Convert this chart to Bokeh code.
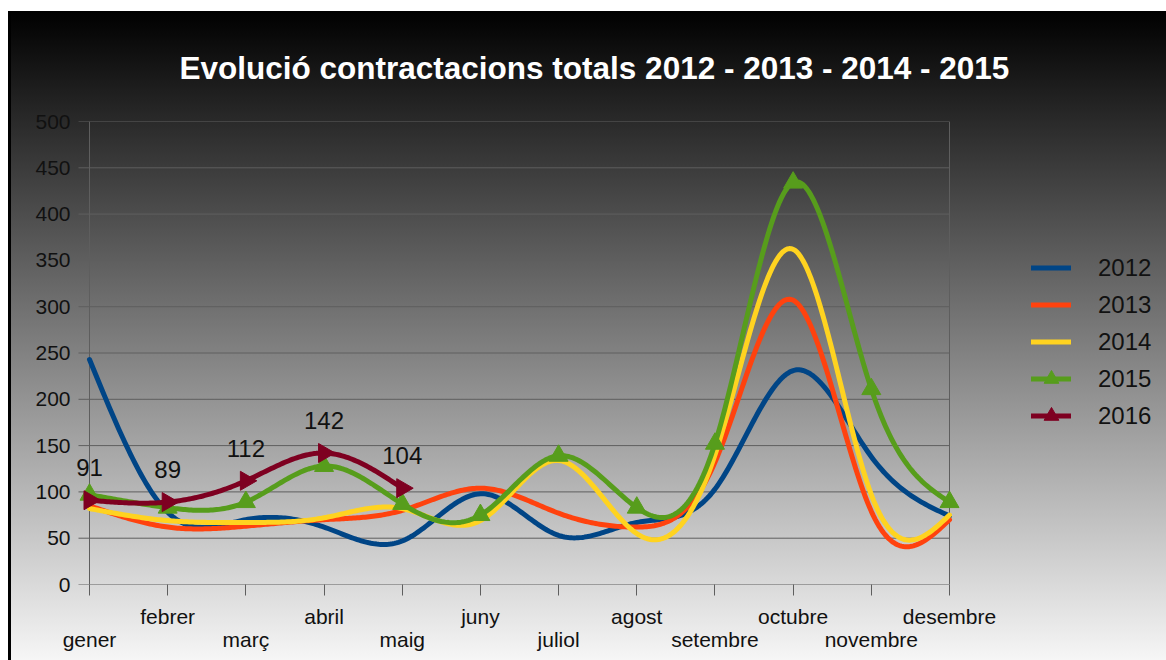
import numpy as np
from bokeh.plotting import figure
from bokeh.models import (Range1d, FixedTicker, LinearAxis, Legend, LegendItem,
                          ColumnDataSource, LabelSet, Title)
from bokeh.core.properties import value
from bokeh.embed import file_html
from bokeh.resources import INLINE

months = ["gener", "febrer", "març", "abril", "maig", "juny", "juliol",
          "agost", "setembre", "octubre", "novembre", "desembre"]
y2012 = [243, 78, 70, 62, 47, 98, 53, 67, 103, 231, 138, 74]
y2013 = [85, 62, 63, 70, 80, 104, 77, 62, 132, 307, 79, 70]
y2014 = [82, 69, 67, 72, 82, 69, 134, 55, 140, 362, 97, 75]
y2015 = [97, 83, 89, 128, 87, 75, 139, 83, 152, 434, 211, 89]
y2016 = [91, 89, 112, 142, 104]
years = ["2012", "2013", "2014", "2015", "2016"]
colors = ["#004586", "#ff420e", "#ffd320", "#579d1c", "#7e0021"]
y_ticks = list(range(0, 501, 50))

FONT = "Liberation Sans"
AXIS_GRAY = "#5e5e5e"
PX_PER_UNIT = 860 / 11.0          # one month step in pixels
X_START = -27 / PX_PER_UNIT       # frame reaches 27px left of "gener"
X_END = 11 + 217 / PX_PER_UNIT    # frame reaches the right edge (room for legend)
GRID_START = -11 / PX_PER_UNIT    # grid lines stick out 11px left of the axis


def natural_spline(yv, n=40):
    y = np.asarray(yv, dtype=float)
    k = len(y)
    x = np.arange(k, dtype=float)
    if k < 3:
        return x, y
    A = np.zeros((k, k))
    b = np.zeros(k)
    A[0, 0] = 1.0
    A[-1, -1] = 1.0
    for i in range(1, k - 1):
        A[i, i - 1] = 1.0
        A[i, i] = 4.0
        A[i, i + 1] = 1.0
        b[i] = 6.0 * (y[i + 1] - 2 * y[i] + y[i - 1])
    M = np.linalg.solve(A, b)
    xs, ys = [], []
    for i in range(k - 1):
        t = np.linspace(0, 1, n, endpoint=(i == k - 2))
        s = (M[i] * (1 - t) ** 3 / 6 + M[i + 1] * t ** 3 / 6
             + (y[i] - M[i] / 6) * (1 - t) + (y[i + 1] - M[i + 1] / 6) * t)
        xs.append(x[i] + t)
        ys.append(s)
    return np.concatenate(xs), np.concatenate(ys)


p = figure(width=1166, height=660, output_backend="svg", toolbar_location=None,
           x_range=Range1d(X_START, X_END), y_range=Range1d(0, 500),
           min_border_left=62, min_border_right=0, min_border_top=121,
           min_border_bottom=76, x_axis_location=None)

p.background_fill_alpha = 0
p.border_fill_alpha = 0
p.outline_line_color = None
p.styles = {
    "background-image": (
        "linear-gradient(to bottom, #ffffff 0px, #ffffff 11px, rgba(255,255,255,0) 11px), "
        "linear-gradient(to right, #ffffff 0px, #ffffff 8px, #000000 8px, #000000 11px, rgba(0,0,0,0) 11px), "
        "linear-gradient(to bottom, #000000 0px, #000000 11px, #f6f6f6 100%)")
}

# title
p.title = Title(text="Evolució contractacions totals 2012 - 2013 - 2014 - 2015",
                text_color="#ffffff", text_font=FONT, text_font_style="bold",
                text_font_size="31.5px", align="left", offset=117, standoff=72)

# y axis (labels only; lines drawn as grid segments)
yax = p.yaxis[0]
yax.ticker = FixedTicker(ticks=y_ticks)
yax.major_tick_out = 0
yax.major_tick_in = 0
yax.minor_tick_out = 0
yax.minor_tick_in = 0
yax.axis_line_color = None
yax.major_label_text_font = FONT
yax.major_label_text_font_size = "21px"
yax.major_label_text_color = "#111111"
yax.major_label_standoff = -8

p.ygrid.visible = False
p.xgrid.visible = False

# horizontal grid lines (extend 11px left of the vertical axis, like ticks)
p.segment(x0=[GRID_START] * len(y_ticks), y0=y_ticks, x1=[11] * len(y_ticks), y1=y_ticks,
          line_color=AXIS_GRAY, line_width=1)
# vertical axis line and right border of the plot area
p.segment(x0=[0, 11], y0=[0, 0], x1=[0, 11], y1=[500, 500], line_color=AXIS_GRAY, line_width=1)

# x axes: two rows of labels
x1 = LinearAxis(ticker=FixedTicker(ticks=list(range(12))),
                major_label_overrides={i: (months[i] if i % 2 == 1 else "") for i in range(12)})
x1.major_tick_out = 11
x1.major_tick_in = 0
x1.minor_tick_out = 0
x1.minor_tick_in = 0
x1.axis_line_color = None
x1.major_tick_line_color = AXIS_GRAY
x1.major_label_text_font = FONT
x1.major_label_text_font_size = "21px"
x1.major_label_text_color = "#111111"
x1.major_label_text_line_height = 1.0
x1.major_label_standoff = 9
p.add_layout(x1, "below")

x2 = LinearAxis(ticker=FixedTicker(ticks=list(range(0, 12, 2))),
                major_label_overrides={i: months[i] for i in range(0, 12, 2)})
x2.major_tick_out = 0
x2.major_tick_in = 0
x2.minor_tick_out = 0
x2.minor_tick_in = 0
x2.axis_line_color = None
x2.major_label_text_font = FONT
x2.major_label_text_font_size = "21px"
x2.major_label_text_color = "#111111"
x2.major_label_text_line_height = 1.0
x2.major_label_standoff = -3
p.add_layout(x2, "below")

items = []
series = [y2012, y2013, y2014, y2015, y2016]
for yr, data, col in zip(years, series, colors):
    sx, sy = natural_spline(data)
    r_line = p.line(sx, sy, line_color=col, line_width=5, line_join="round", line_cap="round")
    rs = [r_line]
    if yr == "2015":
        r_m = p.scatter(list(range(len(data))), data, marker="triangle", size=19,
                        fill_color=col, line_color=col)
        rs.append(r_m)
    if yr == "2016":
        r_m = p.scatter(list(range(len(data))), data, marker="triangle", size=19,
                        angle=-np.pi / 2, fill_color=col, line_color=col)
        rs.append(r_m)
    items.append(LegendItem(label=yr, renderers=rs))

# data labels for 2016
src16 = ColumnDataSource(dict(x=list(range(len(y2016))), y=y2016,
                              t=[str(v) for v in y2016]))
labels = LabelSet(x="x", y="y", text="t", source=src16, text_align="center",
                  text_baseline="alphabetic", y_offset=24, text_font=value(FONT),
                  text_font_size="24px", text_color="#111111")
p.add_layout(labels)

legend = Legend(items=items, location=(969, 150), orientation="vertical",
                glyph_width=40, glyph_height=37, label_height=24, spacing=0,
                label_standoff=27, padding=0, margin=0,
                label_text_font=FONT, label_text_font_size="24px",
                label_text_color="#111111",
                background_fill_alpha=0, border_line_color=None)
p.add_layout(legend, "center")

open("out.html", "w").write(file_html(p, INLINE))
